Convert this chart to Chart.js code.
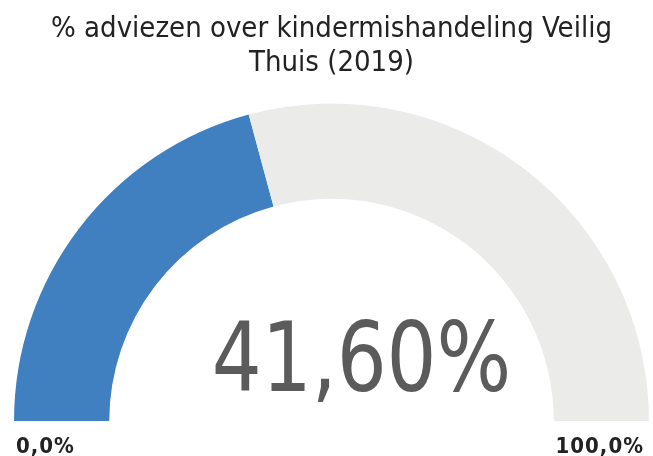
<!DOCTYPE html>
<html>
<head>
<meta charset="utf-8">
<script src="https://cdn.jsdelivr.net/npm/chart.js@4"></script>
<style>
html,body{margin:0;padding:0;background:#fff;}
#wrap{width:653px;height:456px;position:relative;}
</style>
</head>
<body>
<div id="wrap"><canvas id="c" width="653" height="456"></canvas></div>
<script>
const titleLines = ['% adviezen over kindermishandeling Veilig', 'Thuis (2019)'];
const categories = ['Adviezen over kindermishandeling', 'Overig'];
const values = [41.6, 58.4];
const tickLabels = ['0,0%', '100,0%'];
const colors = ['#4080c1', '#ebebea'];

const FONT = '"DejaVu Sans Condensed", "DejaVu Sans", sans-serif';

function fmt(v){ return v.toFixed(2).replace('.', ',') + '%'; }

const gaugeText = {
  id: 'gaugeText',
  afterDraw(chart){
    const meta = chart.getDatasetMeta(0);
    const arc = meta.data[0];
    if(!arc) return;
    const {x, y, outerRadius} = arc.getProps(['x','y','outerRadius'], true);
    const ctx = chart.ctx;
    ctx.save();
    // center value (slightly condensed horizontally)
    ctx.fillStyle = '#5a5b5a';
    ctx.font = '97px ' + FONT;
    ctx.textAlign = 'center';
    ctx.textBaseline = 'alphabetic';
    ctx.translate(x + 30, y - 30);
    ctx.scale(0.9, 1);
    ctx.fillText(fmt(values[0]), 0, 0);
    ctx.restore();
    ctx.save();
    // min / max labels
    ctx.fillStyle = '#222222';
    ctx.font = 'bold 22px ' + FONT;
    ctx.letterSpacing = '1px';
    ctx.textAlign = 'left';
    ctx.textBaseline = 'alphabetic';
    ctx.fillText(tickLabels[0], x - outerRadius + 2, y + 32);
    ctx.textAlign = 'right';
    ctx.fillText(tickLabels[1], x + outerRadius - 5, y + 32);
    ctx.restore();
  }
};

new Chart(document.getElementById('c'), {
  type: 'doughnut',
  data: {
    labels: categories,
    datasets: [{
      data: values,
      backgroundColor: colors,
      borderWidth: 0,
      hoverOffset: 0
    }]
  },
  options: {
    responsive: false,
    animation: false,
    rotation: -90,
    circumference: 180,
    cutout: '70%',
    layout: { padding: { left: 14, right: 4, top: 0, bottom: 35 } },
    plugins: {
      legend: { display: false },
      tooltip: { enabled: false },
      title: {
        display: true,
        text: titleLines,
        color: '#222222',
        font: { family: FONT, size: 29, weight: 'normal', lineHeight: 1.19 },
        padding: { top: 11.75, bottom: 22.75 }
      }
    }
  },
  plugins: [gaugeText]
});
</script>
</body>
</html>
